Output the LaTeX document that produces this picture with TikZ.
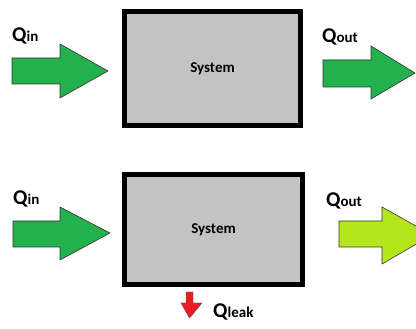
\documentclass[tikz,border=0pt]{standalone}
\usepackage{fontspec}
\setmainfont{Carlito}
\definecolor{heatgreen}{HTML}{22B14C}
\definecolor{heatlime}{HTML}{B5E61D}
\definecolor{heatred}{HTML}{ED1C24}
\definecolor{boxgray}{HTML}{C3C3C3}
\tikzset{
  sysbox/.style={draw=black, line width=5pt, fill=boxgray, outer sep=0pt},
  systext/.style={font=\bfseries\fontsize{15}{15}\selectfont},
  flowarrow/.style={draw=black!80, line width=0.6pt, line join=miter},
  qlabel/.style={inner sep=0pt, anchor=base west, font=\bfseries},
}
\newcommand{\qlab}[1]{{\fontsize{21}{21}\selectfont Q}{\fontsize{15}{15}\selectfont #1}}
\begin{document}
\begin{tikzpicture}[x=1pt,y=-1pt]
  \useasboundingbox (0,0) rectangle (416,329);
  % systems
  \node[sysbox, minimum width=176pt, minimum height=114pt, anchor=north west] (sys1) at (124.5,11.5) {};
  \node[systext] at (sys1.center) {System};
  \node[sysbox, minimum width=178pt, minimum height=110pt, anchor=north west] (sys2) at (124.5,174.5) {};
  \node[systext] at (sys2.center) {System};
  % top row heat flows
  \filldraw[flowarrow, fill=heatgreen] (12,58) -- (60,58) -- (60,44) -- (108,71) -- (60,98) -- (60,84) -- (12,84) -- cycle;
  \node[qlabel] (qin1) at (12,42) {\qlab{in}};
  \filldraw[flowarrow, fill=heatgreen] (323,60) -- (371,60) -- (371,46) -- (415,73) -- (371,99) -- (371,87) -- (323,87) -- cycle;
  \node[qlabel] (qout1) at (322,43) {\qlab{out}};
  % bottom row heat flows
  \filldraw[flowarrow, fill=heatgreen] (13,221) -- (60,221) -- (60,207) -- (110,233) -- (60,260) -- (60,247) -- (13,247) -- cycle;
  \node[qlabel] (qin2) at (13,205) {\qlab{in}};
  \filldraw[flowarrow, fill=heatlime] (339,221) -- (382,221) -- (382,207) -- (432,235) -- (382,264) -- (382,247) -- (339,247) -- cycle;
  \node[qlabel] (qout2) at (326,207) {\qlab{out}};
  % leak
  \filldraw[draw=black!70, line width=0.4pt, fill=heatred] (186,292) -- (193,292) -- (193,303) -- (202,303) -- (189.5,318) -- (181,303) -- (186,303) -- cycle;
  \node[qlabel] (qleak) at (213,317) {\qlab{leak}};
\end{tikzpicture}
\end{document}
